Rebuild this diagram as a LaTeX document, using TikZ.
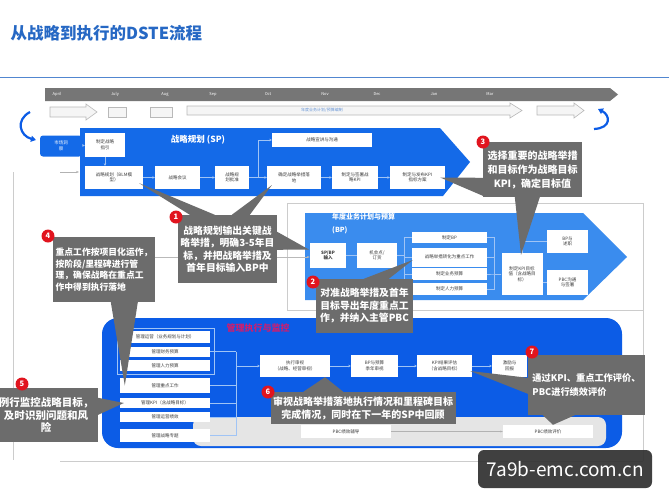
\documentclass[tikz,border=0pt]{standalone}
\usepackage{fontspec}
\setmainfont{Noto Sans CJK SC}
\usetikzlibrary{positioning, calc, arrows.meta}
\definecolor{titleblue}{RGB}{38,104,196}
\definecolor{spblue}{RGB}{20,106,232}
\definecolor{bpblue}{RGB}{58,140,238}
\definecolor{exblue}{RGB}{12,92,230}
\definecolor{callgray}{RGB}{108,108,108}
\definecolor{badgered}{RGB}{225,20,30}
\definecolor{bandgray}{RGB}{118,118,118}
\definecolor{flowline}{RGB}{160,196,245}
\definecolor{textgray}{RGB}{60,60,60}
\definecolor{extitle}{RGB}{205,30,110}
\definecolor{markgray}{RGB}{48,48,48}

\begin{document}
\begin{tikzpicture}[x=1pt, y=-1pt,
    cell/.style={fill=white, text=textgray, font=\fontsize{4.5}{5.5}\selectfont, align=center, inner sep=0.5pt},
    calloutbox/.style={fill=callgray, text=white, font=\fontsize{9.8}{12.5}\selectfont\bfseries, align=center, inner sep=1pt},
    badgenum/.style={circle, fill=badgered, text=white, font=\fontsize{7.5}{7.5}\selectfont\bfseries, inner sep=0pt, minimum size=13pt},
    month/.style={text=white, font=\fontsize{4}{4}\selectfont},
    flowarrow/.style={draw=flowline, line width=0.5pt, -{Stealth[length=2.5pt,width=2.5pt]}},
    bplink/.style={draw=flowline, line width=0.4pt},
    framestroke/.style={draw=gray!40, line width=0.5pt},
    hollowarrow/.style={draw=gray!55, fill=gray!8, line width=0.6pt}]

    % Background
    \path[fill=white, use as bounding box] (0,0) rectangle (669,501);
    \node[anchor=west, text=titleblue, font=\fontsize{16.5}{16.5}\selectfont\bfseries] (title) at (7,33) {从战略到执行的DSTE流程};
    \draw[titleblue!80, line width=0.8pt] (0,77) -- (669,77);

    % Timeline
    \fill[bandgray] (45,88) -- (610,88) -- (618,94.5) -- (610,101) -- (45,101) -- cycle;
    \foreach \m/\x in {April/57, July/115, Aug/165, Sep/213, Oct/268, Nov/325, Dec/377, Jan/434, Mar/490}
        \node[month] (m-\m) at (\x,94.5) {\m};
    \draw[hollowarrow] (50,107) -- (86,107) -- (86,104) -- (97,112) -- (86,120) -- (86,117) -- (50,117) -- cycle;
    \draw[hollowarrow] (108,107) rectangle (126,117);
    \draw[hollowarrow] (150,107) rectangle (172,117);
    \draw[hollowarrow] (187,106) -- (510,106) -- (510,103) -- (522,110.5) -- (510,118) -- (510,115) -- (187,115) -- cycle;
    \node[text=titleblue!70, font=\fontsize{4}{4}\selectfont] (bpplan) at (322,110.5) {年度业务计划/预算编制};
    \draw[hollowarrow] (537,106) -- (574,106) -- (574,103) -- (584,110.5) -- (574,118) -- (574,115) -- (537,115) -- cycle;
    \draw[exblue, line width=2.2pt, -{Triangle[length=5pt,width=6pt]}] (30,112) .. controls (15,120) and (20,136) .. (36,140);
    \draw[exblue, line width=2.2pt, -{Triangle[length=5pt,width=6pt]}] (594,129) .. controls (612,128) and (610,115) .. (598,109);

    % Frame lines
    \draw[framestroke] (13,172) -- (13,460);
    \draw[framestroke] (60,461) -- (643,461);
    \draw[framestroke] (643,310) -- (643,461);
    \draw[framestroke] (287,203) rectangle (643,310);

    % Strategy plan (SP)
    \fill[spblue] (80,128) -- (440,128) -- (470,162) -- (443,196) -- (80,196) -- cycle;
    \node[fill=spblue, text=white, font=\fontsize{4.5}{5.5}\selectfont, align=center, minimum width=42pt, minimum height=21pt, rounded corners=3pt] (insight) at (61,146) {市场洞\\察};
    \node[text=white, font=\fontsize{8.5}{8.5}\selectfont\bfseries] (sptitle) at (198,140) {战略规划 (SP)};
    \node[cell, minimum width=40pt, minimum height=24pt] (guide) at (105,145) {制定战略\\指引};
    \node[cell, minimum width=58pt, minimum height=23pt] (blm) at (114,177.5) {战略规划（BLM模\\型）};
    \node[cell, minimum width=45pt, minimum height=23pt] (meet) at (177.5,177.5) {战略会议};
    \node[cell, minimum width=34pt, minimum height=23pt] (approve) at (232,177.5) {战略规\\划批准};
    \node[cell, minimum width=54pt, minimum height=23pt] (measure) at (294,177.5) {确定战略举措落\\地};
    \node[cell, minimum width=46pt, minimum height=23pt] (signkpi) at (355,177.5) {制定与签署战\\略KPI};
    \node[cell, minimum width=55pt, minimum height=23pt] (kpiplan) at (417.5,177.5) {制定与发布KPI\\指标方案};
    \node[cell, minimum width=100pt, minimum height=14pt] (comm) at (322,140) {战略宣讲与沟通};
    \draw[flowarrow] (insight) -- (guide);
    \draw[flowarrow] (guide.south) -- (guide.south |- blm.north);
    \draw[flowarrow] (blm) -- (meet);
    \draw[flowarrow] (meet) -- (approve);
    \draw[flowarrow] (approve) -- (measure);
    \draw[flowarrow] (measure) -- (signkpi);
    \draw[flowarrow] (signkpi) -- (kpiplan);
    \draw[flowarrow] ($(measure.west)+(-9,0)$) |- (comm.west);
    \coordinate (sidein) at (60,172);
    \coordinate (spedge) at (79,172);
    \draw[gray!60, line width=0.5pt, -{Stealth[length=3pt]}] (sidein) -- (spedge);

    % Business plan (BP)
    \fill[bpblue] (305,213) -- (583,213) -- (627,257) -- (583,300) -- (305,300) -- cycle;
    \node[anchor=west, text=white, font=\fontsize{7}{13}\selectfont\bfseries, align=left, inner sep=0pt] (bptitle) at (332,224) {年度业务计划与预算\\(BP)};
    \node[cell, font=\fontsize{4.5}{5.5}\selectfont\bfseries, minimum width=36pt, minimum height=25pt] (sbp) at (328,255.5) {SP/BP\\输入};
    \node[cell, minimum width=40pt, minimum height=25pt] (opp) at (377,255.5) {机会点/\\订货};
    \node[cell, minimum width=75pt, minimum height=11pt] (makebp) at (449.5,237.5) {制定BP};
    \node[cell, minimum width=75pt, minimum height=19pt] (keywork) at (449.5,257) {战略举措转化为重点工作};
    \node[cell, minimum width=75pt, minimum height=12pt] (bizbud) at (449.5,274) {制定业务预算};
    \node[cell, minimum width=75pt, minimum height=12pt] (hrbud) at (449.5,289) {制定人力预算};
    \node[cell, minimum width=41pt, minimum height=42pt] (kpival) at (522,274) {制定KPI目标\\值（含战略目\\标）};
    \node[cell, minimum width=41pt, minimum height=23pt] (bpreport) at (567.5,241.5) {BP与\\述职};
    \node[cell, minimum width=41pt, minimum height=25pt] (pbcsign) at (567.5,282.5) {PBC沟通\\与签署};
    \draw[bplink] (sbp) -- (opp);
    \foreach \n in {makebp, keywork, bizbud, hrbud} {
        \draw[bplink] (opp.east) -- ++(7,0) |- (\n.west);
        \draw[bplink] (kpival.west) -- ++(-7,0) |- (\n.east);
    }
    \draw[bplink] (kpival.north) |- (bpreport.west);
    \draw[bplink] (kpival.east |- pbcsign.west) -- (pbcsign.west);
    \coordinate (workin) at (155,257);
    \draw[gray!55, line width=0.5pt, -{Stealth[length=3pt]}] (workin) -- (sbp.west |- workin);

    % Execution and monitoring
    \fill[exblue, rounded corners=16pt] (102,318) rectangle (622,448);
    \fill[gray!20, rounded corners=8pt] (193,417) rectangle (606,446);
    \node[text=extitle, font=\fontsize{9}{9}\selectfont\bfseries] (extitle) at (258,328) {管理执行与监控};
    \node[cell, minimum width=90pt, minimum height=12pt] (ops) at (165,337) {管理运营（业务规划与计划）};
    \node[cell, minimum width=90pt, minimum height=10pt] (fin) at (165,351.5) {管理财务预算};
    \node[cell, minimum width=90pt, minimum height=11pt] (hr) at (165,365.5) {管理人力预算};
    \node[cell, minimum width=90pt, minimum height=15pt] (keyw) at (165,385.5) {管理重点工作};
    \node[cell, minimum width=90pt, minimum height=10pt] (kpim) at (165,403) {管理KPI（含战略目标）};
    \node[cell, minimum width=90pt, minimum height=10pt] (perf) at (165,417) {管理运营绩效};
    \node[cell, minimum width=90pt, minimum height=13pt] (topic) at (165,435.5) {管理战略专题};
    \draw[bplink] ($(ops.north west)+(-3,-3)$) rectangle ($(hr.south east)+(4,3)$);
    \coordinate (spine) at (236,366);
    \foreach \n in {fin, keyw, kpim, perf, topic}
        \draw[bplink] (\n.east) -- (\n.east -| spine);
    \draw[bplink] (spine |- fin) -- (spine |- topic);
    \node[cell, minimum width=70pt, minimum height=22pt] (review) at (295,366) {执行审视\\（战略、经营审视）};
    \node[cell, minimum width=47pt, minimum height=22pt] (bpquart) at (374.5,366) {BP与预算\\季年审视};
    \node[cell, minimum width=55pt, minimum height=22pt] (kpires) at (444.5,366) {KPI结果评估\\（含战略目标）};
    \node[cell, minimum width=35pt, minimum height=22pt] (incent) at (509.5,366) {激励与\\回报};
    \draw[flowarrow] (spine) -- (review.west);
    \draw[flowarrow] (review) -- (bpquart);
    \draw[flowarrow] (bpquart) -- (kpires);
    \draw[flowarrow] (kpires) -- (incent);
    \node[cell, minimum width=90pt, minimum height=13pt] (coach) at (346,431.5) {PBC绩效辅导};
    \node[cell, minimum width=90pt, minimum height=13pt] (evalp) at (548,431.5) {PBC绩效评价};
    \draw[gray!60, line width=0.4pt, -{Stealth[length=2.5pt]}] (coach) -- (evalp);

    % Callouts
    \node[calloutbox, minimum width=99pt, minimum height=68pt] (c1) at (227.5,249) {战略规划输出关键战\\略举措，明确3-5年目\\标，并把战略举措及\\首年目标输入BP中};
    \fill[callgray] ($(c1.north west)+(12,0)$) -- ($(c1.north west)+(37,0)$) -- ($(blm.south east)+(-4,-6)$) -- cycle;
    \fill[callgray] ($(c1.north west)+(54,0)$) -- ($(c1.north west)+(72,0)$) -- ($(measure.south west)+(5,-4)$) -- cycle;
    \fill[callgray] ($(c1.north east)+(0,17)$) -- ($(c1.north east)+(0,35)$) -- ($(sbp.west)+(-1,-6)$) -- cycle;

    \node[calloutbox, minimum width=97pt, minimum height=54pt] (c2) at (364.5,306) {对准战略举措及首年\\目标导出年度重点工\\作，并纳入主管PBC};
    \fill[callgray] ($(c2.north west)+(48,0)$) -- ($(c2.north west)+(73,0)$) -- ($(keywork.west)+(1,3)$) -- cycle;

    \node[calloutbox, font=\fontsize{10}{14}\selectfont\bfseries, minimum width=99pt, minimum height=55pt] (c3) at (532.5,169.5) {选择重要的战略举措\\和目标作为战略目标\\KPI，确定目标值};
    \fill[callgray] ($(c3.north west)+(0,36)$) -- ($(c3.north west)+(0,54)$) -- ($(kpiplan.east)+(-5,0)$) -- cycle;
    \fill[callgray] ($(c3.south west)+(32,0)$) -- ($(c3.south west)+(57,0)$) -- ($(kpival.north)+(-1,2)$) -- cycle;

    \node[calloutbox, font=\fontsize{8.8}{11.5}\selectfont\bfseries, align=left, minimum width=102pt, minimum height=65pt] (c4) at (104,269.5) {重点工作按项目化运作，\\按阶段/里程碑进行管\\理，确保战略在重点工\\作中得到执行落地};
    \fill[callgray] ($(c4.south west)+(58,0)$) -- ($(c4.south west)+(85,0)$) -- ($(keyw.west)+(5,0)$) -- cycle;

    \node[calloutbox, font=\fontsize{10.5}{12.5}\selectfont\bfseries, minimum width=104pt, minimum height=54pt] (c5) at (46,415) {例行监控战略目标，\\及时识别问题和风\\险};
    \fill[callgray] ($(c5.north east)+(0,10)$) -- ($(c5.north east)+(0,27)$) -- ($(kpim.west)+(4,0)$) -- cycle;

    \node[calloutbox, font=\fontsize{10}{13}\selectfont\bfseries, minimum width=185pt, minimum height=32pt] (c6) at (363,408) {审视战略举措落地执行情况和里程碑目标\\完成情况，同时在下一年的SP中回顾};
    \fill[callgray] ($(c6.north west)+(33,0)$) -- ($(c6.north west)+(73,0)$) -- ($(review.south)+(30,0)$) -- cycle;

    \node[calloutbox, font=\fontsize{9.2}{13.5}\selectfont\bfseries, align=left, minimum width=117pt, minimum height=60pt] (c7) at (586.5,385) {通过KPI、重点工作评价、\\PBC进行绩效评价};
    \fill[callgray] ($(c7.north west)+(0,23)$) -- ($(c7.north west)+(0,39)$) -- ($(kpires.east)+(-2,5)$) -- cycle;
    \fill[callgray] ($(c7.south west)+(15,0)$) -- ($(c7.south west)+(47,0)$) -- ($(evalp.north)+(5,0)$) -- cycle;

    % Badges
    \foreach \k/\x/\y in {1/176/217, 2/313/282, 3/483/142, 4/48/236, 5/22/384, 6/268/392, 7/532/352}
        \node[badgenum] (b\k) at (\x,\y) {\k};

    % Watermark
    \node[fill=markgray, fill opacity=0.92, text opacity=1, text=white, rounded corners=6pt, minimum width=174pt, minimum height=38pt, font=\fontsize{19}{19}\selectfont] (mark) at (565,469) {7a9b-emc.com.cn};
\end{tikzpicture}
\end{document}
